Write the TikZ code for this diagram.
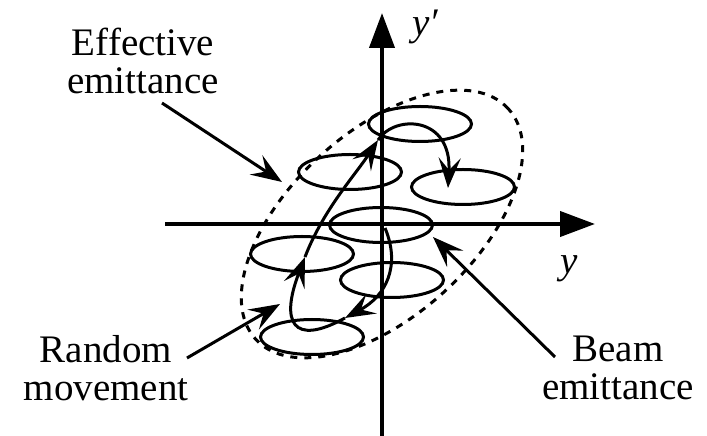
\documentclass[tikz,border=0pt]{standalone}
\usepackage{fontspec}
\setmainfont{Liberation Serif}
\usetikzlibrary{arrows.meta,shapes.geometric}
\begin{document}
\begin{tikzpicture}[x=1pt,y=1pt,
  axisline/.style={line width=4pt,-{Triangle[length=35pt,width=25pt]}},
  beamell/.style={draw,ellipse,line width=3pt,minimum width=103pt,minimum height=35pt,inner sep=0pt},
  effell/.style={draw,ellipse,line width=3pt,dash pattern=on 7pt off 7pt,minimum width=342pt,minimum height=184pt,inner sep=0pt},
  pointer/.style={line width=3pt,-{Stealth[length=31pt,width=23pt,inset=12pt]}},
  walk/.style={line width=3pt,-{Stealth[length=30pt,width=22pt,inset=12pt]}},
  lbl/.style={font=\fontsize{39}{38}\selectfont,align=center,inner sep=0pt},
  axlbl/.style={font=\fontsize{39}{38}\selectfont\itshape,inner sep=0pt,anchor=base west}]
\useasboundingbox (0,0) rectangle (707,436);
% axes
\coordinate (yb) at (382,0);
\coordinate (yt) at (382,423);
\coordinate (xl) at (165,212);
\coordinate (xr) at (595,212);
\draw[axisline] (yb) -- (yt);
\draw[axisline] (xl) -- (xr);
\node[axlbl] (lyp) at (412,400) {y\char"2032};
\node[axlbl] (ly) at (560,162) {y};
% effective emittance (dashed)
\node[effell,rotate=42.4] (eff) at (382,212) {};
% beam ellipses
\node[beamell] (e1) at (420,312) {};
\node[beamell] (e2) at (350,264) {};
\node[beamell] (e3) at (463,249) {};
\node[beamell] (e4) at (381,211) {};
\node[beamell] (e5) at (302,182) {};
\node[beamell] (e6) at (392,156) {};
\node[beamell] (e7) at (312,99) {};
% random walk
\coordinate (w0) at (385,208);
\coordinate (w1) at (345,118);
\coordinate (w2) at (305,179);
\coordinate (w3) at (378,296);
\coordinate (w4) at (448,248);
\draw[walk] (w0) .. controls (401,170) and (386,140) .. (w1);
\draw[walk] (w1) .. controls (292.5,89) and (280,114) .. (w2);
\draw[walk] (w2) .. controls (323,226) and (356,262) .. (w3);
\draw[walk] (w3) .. controls (395,322) and (452,320) .. (w4);
% labels
\node[lbl] (leff) at (143,375) {Effective\\emittance};
\node[lbl] (lrnd) at (106,68) {Random\\movement};
\node[lbl] (lbeam) at (618,68) {Beam\\emittance};
\coordinate (peff) at (282,254);
\coordinate (prnd) at (280,132);
\coordinate (pbeam) at (433,199);
\draw[pointer] (162,333) -- (peff);
\draw[pointer] (187,78) -- (prnd);
\draw[pointer] (555,79) -- (pbeam);
\end{tikzpicture}
\end{document}
